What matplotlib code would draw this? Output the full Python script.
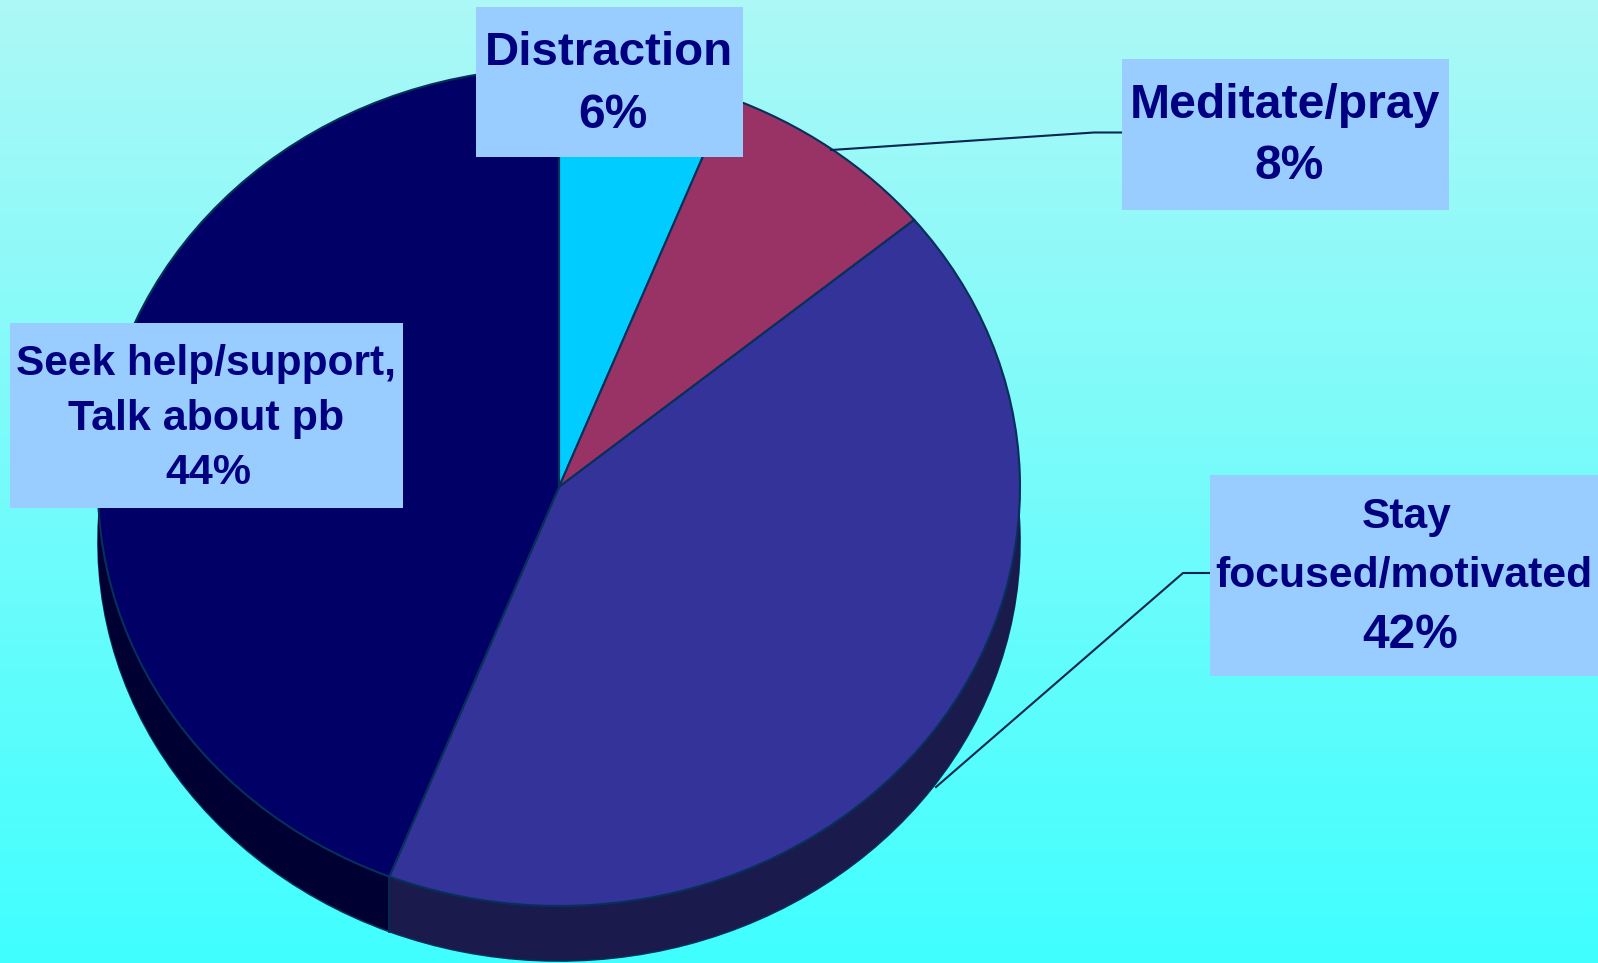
import numpy as np
import matplotlib
matplotlib.use("Agg")
import matplotlib.pyplot as plt
from matplotlib.patches import Rectangle

categories = ["Distraction", "Meditate/pray", "Stay focused/motivated", "Seek help/support, Talk about pb"]
values = [6, 8, 42, 44]
percent_labels = ["6%", "8%", "42%", "44%"]
face_colors = ["#00CCFF", "#993366", "#333399", "#000066"]
side_colors = ["#006680", "#4D1A33", "#1A1A4D", "#000033"]

W, H = 1598, 963
plt.rcParams["font.family"] = ["Liberation Sans", "DejaVu Sans"]
fig = plt.figure(figsize=(W / 100, H / 100), dpi=100)

# background gradient
bg = fig.add_axes([0, 0, 1, 1], zorder=0)
top = np.array([172, 248, 246]) / 255
bot = np.array([64, 255, 255]) / 255
t = np.linspace(0, 1, 256)[:, None, None]
bg.imshow(top * (1 - t) + bot * t, aspect="auto", extent=(0, W, H, 0))
bg.set_xlim(0, W)
bg.set_ylim(H, 0)
bg.axis("off")

# elliptical pie
cx, cy, rx, ry, depth = 559.0, 487.0, 461.0, 419.0, 55
pie_ax = fig.add_axes([(cx - rx) / W, 1 - (cy + ry) / H, 2 * rx / W, 2 * ry / H], zorder=1)
pie_ax.patch.set_alpha(0)
edge = "#06305A"

for d in range(depth, 0, -1):
    pie_ax.pie(values, colors=side_colors, startangle=90, counterclock=False,
               center=(0, -d / ry), radius=1,
               wedgeprops=dict(linewidth=1.2 if d == depth else 0,
                               edgecolor=edge if d == depth else "none", clip_on=False))
pie_ax.pie(values, colors=face_colors, startangle=90, counterclock=False, center=(0, 0), radius=1,
           wedgeprops=dict(linewidth=1.5, edgecolor=edge, clip_on=False))
# front vertical seam of the side wall
frac = sum(values[:3]) / sum(values)
ang = np.deg2rad(90 - 360 * frac)
pie_ax.plot([np.cos(ang)] * 2, [np.sin(ang), np.sin(ang) - depth / ry], color=edge, lw=1.2, clip_on=False)
pie_ax.set_aspect("auto")
pie_ax.set_xlim(-1, 1)
pie_ax.set_ylim(-1, 1)
pie_ax.axis("off")

# overlay for labels, in pixel coordinates
ov = fig.add_axes([0, 0, 1, 1], zorder=2)
ov.set_xlim(0, W)
ov.set_ylim(H, 0)
ov.axis("off")
ov.patch.set_alpha(0)

line_c = "#04264F"
ov.plot([831, 1094, 1122], [150, 132.5, 132.5], color=line_c, lw=1.5)
ov.plot([936, 1183, 1210], [787, 573, 573], color=line_c, lw=1.5)

box_c = "#99CCFF"
txt_c = "#000080"
boxes = [(476, 7, 743, 157), (1122, 59, 1449, 210), (1210, 475, 1598, 676), (10, 323, 403, 508)]
for x0, y0, x1, y1 in boxes:
    ov.add_patch(Rectangle((x0, y0), x1 - x0, y1 - y0, fc=box_c, ec="none", zorder=3))

lines = [
    [(609, 65, categories[0], 34.2), (613, 128, percent_labels[0], 34.5)],
    [(1285, 118, categories[1], 34.7), (1289, 179, percent_labels[1], 34.5)],
    [(1407, 528, "Stay", 30.6), (1404, 587, "focused/motivated", 30.8), (1410, 648, percent_labels[2], 34.5)],
    [(206, 375, "Seek help/support,", 30.5), (206, 430, "Talk about pb", 31), (208, 484, percent_labels[3], 31)],
]
for group in lines:
    for x, y, s, fs in group:
        ov.text(x, y, s, ha="center", va="baseline", fontsize=fs, fontweight="bold", color=txt_c, zorder=4)

fig.savefig("out.png", dpi=100)
